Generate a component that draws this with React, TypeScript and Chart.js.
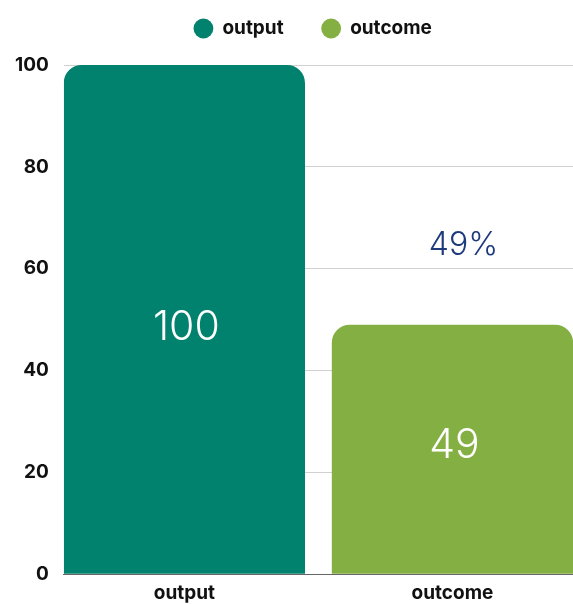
import React, { useEffect, useRef } from "react";
import { Chart, registerables } from "chart.js";

Chart.register(...registerables);

const categories = ["output", "outcome"];
const seriesNames = ["output", "outcome"];
const outputValues = [100, null];
const outcomeValues = [null, 49];
const colors = ["#00826f", "#84af42"];
const percentLabel = "49%";
const yTicks = [0, 20, 40, 60, 80, 100];

const FONT = "Inter, 'DejaVu Sans', sans-serif";

const labelPlugin = {
  id: "valueLabels",
  afterDatasetsDraw(chart: any) {
    const ctx = chart.ctx;
    ctx.save();
    ctx.textAlign = "center";
    ctx.textBaseline = "middle";
    chart.data.datasets.forEach((ds: any, di: number) => {
      const meta = chart.getDatasetMeta(di);
      meta.data.forEach((bar: any, i: number) => {
        const v = ds.data[i];
        if (v === null || v === undefined) return;
        const mid = (bar.y + bar.base) / 2;
        ctx.fillStyle = "#ffffff";
        ctx.font = `300 41px ${FONT}`;
        ctx.fillText(String(v), bar.x + 2, mid + (di === 0 ? 8 : -4));
        if (di === 1) {
          ctx.fillStyle = "#1c3a7c";
          ctx.font = `300 32px ${FONT}`;
          ctx.fillText(percentLabel, bar.x + 11, bar.y - 79);
        }
      });
    });
    ctx.restore();
  },
};

const legendMargin = {
  id: "legendMargin",
  beforeInit(chart: any) {
    const legend = chart.legend;
    const origFit = legend.fit;
    legend.fit = function () {
      origFit.call(this);
      this.height += 17;
    };
    const origDraw = legend.draw;
    legend.draw = function (...args: any[]) {
      const savedLeft = this.left;
      this.left = chart.chartArea ? chart.chartArea.left - 11 : this.left;
      origDraw.apply(this, args);
      this.left = savedLeft;
    };
  },
};

export default function App() {
  const ref = useRef<HTMLCanvasElement>(null);
  useEffect(() => {
    if (!ref.current) return;
    const chart = new Chart(ref.current, {
      type: "bar",
      data: {
        labels: categories,
        datasets: [
          {
            label: seriesNames[0],
            data: outputValues,
            backgroundColor: colors[0],
            borderRadius: { topLeft: 18, topRight: 18, bottomLeft: 0, bottomRight: 0 },
            borderSkipped: false,
          },
          {
            label: seriesNames[1],
            data: outcomeValues,
            backgroundColor: colors[1],
            borderRadius: { topLeft: 18, topRight: 18, bottomLeft: 0, bottomRight: 0 },
            borderSkipped: false,
          },
        ],
      },
      options: {
        animation: false,
        responsive: true,
        maintainAspectRatio: false,
        skipNull: true,
        categoryPercentage: 1,
        barPercentage: 0.9,
        layout: { padding: { left: 0, right: 0, top: -19, bottom: -9 } },
        plugins: {
          legend: {
            position: "top",
            labels: {
              usePointStyle: true,
              pointStyle: "circle",
              boxHeight: 14,
              padding: 38,
              color: "#111",
              font: { family: FONT, size: 19, weight: "700" },
            },
          },
          tooltip: { enabled: false },
        },
        scales: {
          x: {
            offset: false,
            afterBuildTicks: (axis: any) => {
              axis.ticks = categories.map((_, i) => ({ value: i }));
              axis._startValue = -0.4496;
              axis._valueRange = categories.length - 1 + 0.8992;
            },
            grid: { display: false, drawTicks: false },
            border: { display: true, color: "#666" },
            ticks: { color: "#111", padding: 8, font: { family: FONT, size: 19, weight: "700" } },
          },
          y: {
            min: 0,
            max: 100,
            afterBuildTicks: (axis: any) => {
              axis.ticks = yTicks.map((v) => ({ value: v }));
            },
            grid: { color: "#d0d0d0", drawTicks: false },
            border: { display: false },
            ticks: { color: "#111", padding: 15, font: { family: FONT, size: 19, weight: "700" } },
          },
        },
      },
      plugins: [labelPlugin, legendMargin],
    } as any);
    return () => chart.destroy();
  }, []);
  return (
    <div style={{ position: "fixed", left: 0, top: 0, width: 573, height: 604 }}>
      <canvas ref={ref} />
    </div>
  );
}
